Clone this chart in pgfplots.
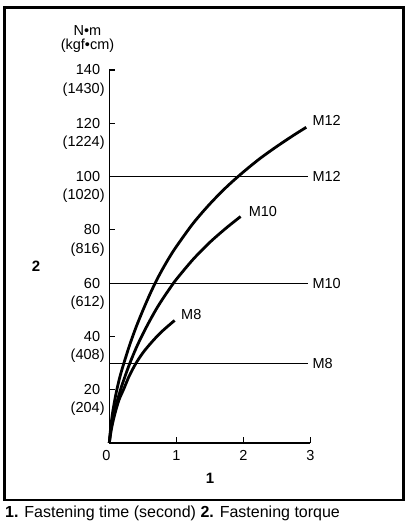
\documentclass[border=0pt]{standalone}
\usepackage{fontspec}
\setmainfont{Liberation Sans}
\usepackage{pgfplots}
\pgfplotsset{compat=1.18}

\newcommand{\lbl}{\fontsize{14.5bp}{17bp}\selectfont}

\begin{document}
\begin{tikzpicture}
% page size and outer frame
\path (-109.3bp,-84bp) rectangle (303.7bp,443bp);
\draw[line width=2.5bp] (-105bp,-57bp) rectangle (294bp,435.5bp);

\begin{axis}[
    scale only axis,
    width=201bp, height=373bp,
    xmin=0, xmax=3,
    ymin=0, ymax=140,
    axis lines*=left,
    axis line style={line width=1.1bp},
    clip=false,
    tick align=inside,
    major tick length=6bp,
    tick style={line width=1.1bp, black},
    xtick={0,1,2,3},
    xticklabels={{\hspace*{-6bp}0},1,2,3},
    ytick={20,40,60,80,100,120,140},
    yticklabels={20,40,60,80,100,120,140},
    extra y ticks={20,40,60,80,100,120,140},
    extra y tick labels={(204),(408),(612),(816),(1020),(1224),(1430)},
    extra y tick style={major tick length=0pt,
        yticklabel style={yshift=-19.5bp, xshift=4.5bp}},
    every tick label/.append style={font=\lbl},
    xticklabel style={anchor=north, inner sep=0pt, yshift=-7bp},
    yticklabel style={anchor=east, inner sep=0pt, xshift=-9bp},
    /pgf/number format/assume math mode=true,
]

% reference torque lines
\addplot[black, line width=1.1bp] coordinates {(0,100)(2.97,100)};
\addplot[black, line width=1.1bp] coordinates {(0,60)(2.97,60)};
\addplot[black, line width=1.1bp] coordinates {(0,30)(2.97,30)};

% fastening curves
\addplot[black, line width=2.8bp, smooth] coordinates {
    (0,0)(0.02,5.5)(0.05,11.5)(0.1,18.5)(0.15,24)(0.2,28.5)(0.3,36.5)(0.4,43.5)
    (0.5,49.7)(0.6,55.5)(0.7,60.8)(0.8,65.5)(0.9,69.8)(1.0,73.7)(1.25,82.4)
    (1.5,89.7)(1.75,96.1)(2.0,101.7)(2.25,106.8)(2.5,111.3)(2.75,115.5)(2.94,118.5)
};
\addplot[black, line width=2.8bp, smooth] coordinates {
    (0,0)(0.02,4.5)(0.05,9)(0.1,14)(0.15,18.5)(0.2,22.5)(0.3,29.5)(0.4,35.6)
    (0.5,40.9)(0.6,45.7)(0.7,50.2)(0.8,54.2)(0.9,57.9)(1.0,61.4)(1.25,68.9)
    (1.5,75.3)(1.75,80.8)(1.96,85)
};
\addplot[black, line width=2.8bp, smooth] coordinates {
    (0,0)(0.02,3.5)(0.05,7.5)(0.1,12.5)(0.15,16.5)(0.22,20.5)(0.3,25.3)(0.4,30)
    (0.5,33.8)(0.6,36.9)(0.7,39.7)(0.8,42.2)(0.9,44.4)(0.975,46)
};

\node[anchor=west, inner sep=0pt, font=\lbl] at (axis cs:3.03,121.2) {M12};
\node[anchor=west, inner sep=0pt, font=\lbl] at (axis cs:3.03,100) {M12};
\node[anchor=west, inner sep=0pt, font=\lbl] at (axis cs:2.08,86.8) {M10};
\node[anchor=west, inner sep=0pt, font=\lbl] at (axis cs:3.03,60) {M10};
\node[anchor=west, inner sep=0pt, font=\lbl] at (axis cs:1.07,48.4) {M8};
\node[anchor=west, inner sep=0pt, font=\lbl] at (axis cs:3.03,30) {M8};
\end{axis}

% axis titles and units
\node[font=\lbl, inner sep=0pt, anchor=base] at (-21.8bp,407bp) {N•m};
\node[font=\lbl, inner sep=0pt, anchor=base] at (-21.8bp,393bp) {(kgf•cm)};
\node[font=\fontsize{15bp}{18bp}\selectfont\bfseries, inner sep=0pt] at (-73.3bp,176.3bp) {2};
\node[font=\fontsize{15bp}{18bp}\selectfont\bfseries, inner sep=0pt] at (100.7bp,-35.3bp) {1};

% caption
\node[anchor=base west, inner sep=0pt, font=\fontsize{16bp}{19bp}\selectfont]
    at (-104.3bp,-74.3bp) {\textbf{1.} Fastening time (second) \textbf{2.} Fastening torque};
\end{tikzpicture}
\end{document}
